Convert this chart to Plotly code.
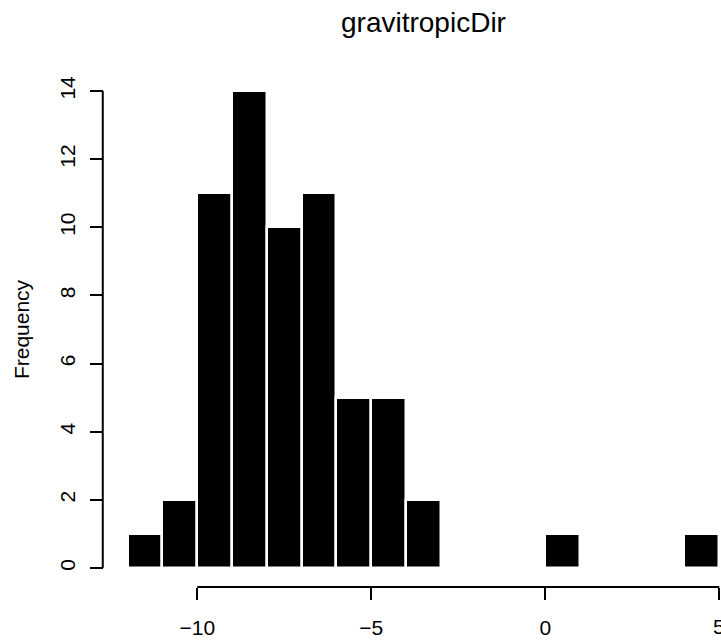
import plotly.graph_objects as go

# Histogram data (bin edges of width 1 from -12 to 5)
bin_left = [-12, -11, -10, -9, -8, -7, -6, -5, -4, -3, -2, -1, 0, 1, 2, 3, 4]
counts = [1, 2, 11, 14, 10, 11, 5, 5, 2, 0, 0, 0, 1, 0, 0, 0, 1]
bin_width = 1
x_ticks = [-10, -5, 0, 5]
x_tick_text = ["\u221210", "\u22125", "0", "5"]
y_ticks = [0, 2, 4, 6, 8, 10, 12, 14]
title_text = "gravitropicDir"
y_label = "Frequency"

centers = [b + bin_width / 2 for b in bin_left]

FONT = "Liberation Sans, Arial, Helvetica, sans-serif"

fig = go.Figure()
fig.add_trace(go.Bar(
    x=centers, y=counts, width=bin_width,
    marker=dict(color="black", line=dict(color="white", width=2.5)),
    hoverinfo="skip",
))

xmin, xmax = -12.68, 5.05
# last tick label sits at the right edge of the page (cut off as in the reference);
# draw it as an annotation so it is not dropped
shown_text = x_tick_text[:-1] + [""]

fig.update_layout(
    width=721, height=640,
    margin=dict(l=104, r=0, t=72, b=53),
    paper_bgcolor="white", plot_bgcolor="white",
    showlegend=False,
    bargap=0,
    font=dict(family=FONT, color="black", size=21),
    xaxis=dict(range=[xmin, xmax], tickmode="array", tickvals=x_ticks,
               ticktext=shown_text, ticks="outside", ticklen=12, tickwidth=2,
               tickcolor="black", showgrid=False, zeroline=False, showline=False,
               ticklabelstandoff=10,
               tickfont=dict(size=21, family=FONT)),
    yaxis=dict(range=[-0.56, 14.56], tickmode="array", tickvals=y_ticks,
               ticks="outside", ticklen=13, tickwidth=2, tickcolor="black",
               tickangle=-90, showgrid=False, zeroline=False, showline=False,
               ticklabelstandoff=7,
               tickfont=dict(size=21, family=FONT),
               title=dict(text=y_label, font=dict(size=21, family=FONT), standoff=20)),
)

fig.add_annotation(text=x_tick_text[-1], xref="x", yref="paper", x=x_ticks[-1],
                   y=0, yshift=-39, xanchor="center", yanchor="middle",
                   showarrow=False, font=dict(size=21, family=FONT, color="black"))

# R-style axis lines spanning only the tick range
fig.add_shape(type="line", xref="x", yref="paper", x0=min(x_ticks), x1=max(x_ticks),
              y0=0, y1=0, line=dict(color="black", width=2))
fig.add_shape(type="line", xref="paper", yref="y", x0=-0.002, x1=-0.002,
              y0=min(y_ticks), y1=max(y_ticks), line=dict(color="black", width=2))

fig.add_annotation(text=title_text, xref="x", yref="paper", x=(xmin + 5.68) / 2,
                   y=1 + 49 / 515, xanchor="center", yanchor="middle",
                   showarrow=False, font=dict(size=28, family=FONT, color="black"))

fig.write_html("out.html")
